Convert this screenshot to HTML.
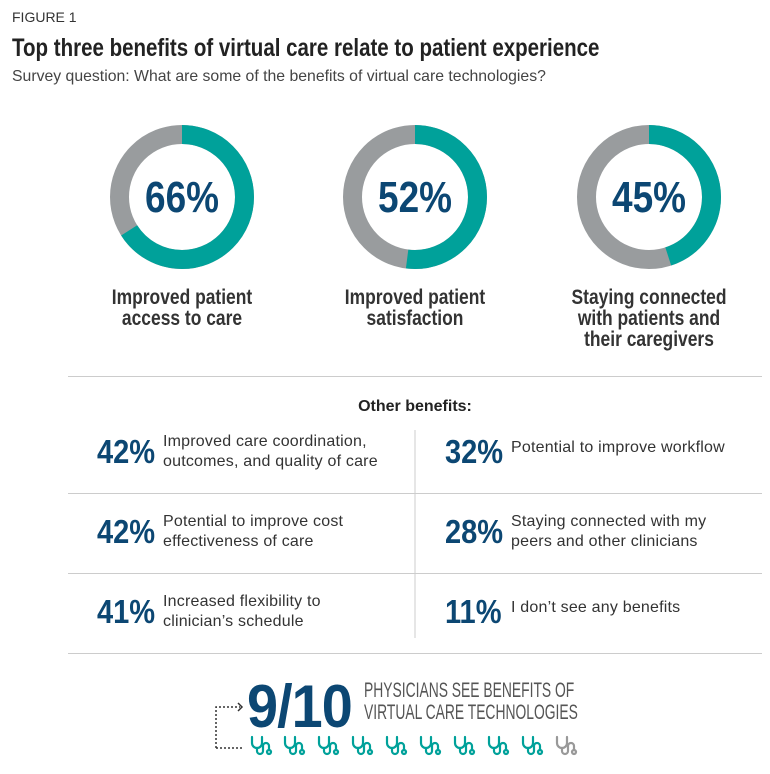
<!DOCTYPE html>
<html><head><style>
body{margin:0;width:770px;height:774px;background:#fff;position:relative;font-family:"Liberation Sans",sans-serif;overflow:hidden}
.a{position:absolute;white-space:nowrap}
.n{font-weight:bold;transform-origin:0 0}
.lab{font-weight:bold;font-size:21px;color:#333;text-align:center;line-height:21px;width:200px;transform:scaleX(0.83);transform-origin:50% 0}
.pct{font-weight:bold;font-size:33px;color:#0c4773;transform:scaleX(0.88);transform-origin:0 0}
.t{font-size:16px;letter-spacing:0.2px;color:#333;line-height:20px}
.hl{position:absolute;height:1px;background:#ccc}
</style></head><body>
<div class="a" style="left:12px;top:9px;font-size:14px;color:#333">FIGURE 1</div>
<div class="a n" style="left:12px;top:34px;font-size:25px;color:#222;transform:scaleX(0.82)">Top three benefits of virtual care relate to patient experience</div>
<div class="a" style="left:12px;top:68px;font-size:15.8px;color:#444">Survey question: What are some of the benefits of virtual care technologies?</div>
<svg class="a" style="left:0;top:0" width="770" height="774">
<g fill="none" stroke-width="19">
<circle cx="182" cy="197" r="62.5" stroke="#999c9e"/>
<circle cx="182" cy="197" r="62.5" stroke="#00a19a" stroke-dasharray="259.2 500" transform="rotate(-90 182 197)"/>
<circle cx="415" cy="197" r="62.5" stroke="#999c9e"/>
<circle cx="415" cy="197" r="62.5" stroke="#00a19a" stroke-dasharray="204.2 500" transform="rotate(-90 415 197)"/>
<circle cx="649" cy="197" r="62.5" stroke="#999c9e"/>
<circle cx="649" cy="197" r="62.5" stroke="#00a19a" stroke-dasharray="176.7 500" transform="rotate(-90 649 197)"/>
</g>
<g font-family="Liberation Sans, sans-serif" font-weight="bold" font-size="44" fill="#0c4773" text-anchor="middle">
<text transform="translate(182 212) scale(0.84 1)">66%</text><text transform="translate(415 212) scale(0.84 1)">52%</text><text transform="translate(649 212) scale(0.84 1)">45%</text>
</g>
<line x1="415" y1="430" x2="415" y2="638" stroke="#ccc"/>
<g fill="none" stroke="#333" stroke-width="1.5" stroke-dasharray="2 2">
<path d="M216 748 V707 H240"/><path d="M216 748 H244"/>
</g>
<path d="M238 703 l4 4 -4 4" fill="none" stroke="#333" stroke-width="1.5"/>
</svg>
<div class="a lab" style="left:82px;top:287px">Improved patient<br>access to care</div>
<div class="a lab" style="left:315px;top:287px">Improved patient<br>satisfaction</div>
<div class="a lab" style="left:549px;top:287px">Staying connected<br>with patients and<br>their caregivers</div>
<div class="hl" style="left:68px;width:694px;top:376px"></div>
<div class="a" style="left:0;width:830px;text-align:center;top:398px;font-size:16px;font-weight:bold;color:#222">Other benefits:</div>
<div class="hl" style="left:68px;width:694px;top:493px"></div>
<div class="hl" style="left:68px;width:694px;top:573px"></div>
<div class="hl" style="left:68px;width:694px;top:653px"></div>
<div class="a pct" style="left:97px;top:433px">42%</div>
<div class="a t" style="left:163px;top:432px">Improved care coordination,<br>outcomes, and quality of care</div>
<div class="a pct" style="left:97px;top:513px">42%</div>
<div class="a t" style="left:163px;top:512px">Potential to improve cost<br>effectiveness of care</div>
<div class="a pct" style="left:97px;top:593px">41%</div>
<div class="a t" style="left:163px;top:592px">Increased flexibility to<br>clinician’s schedule</div>
<div class="a pct" style="left:445px;top:433px">32%</div>
<div class="a t" style="left:511px;top:438px">Potential to improve workflow</div>
<div class="a pct" style="left:445px;top:513px">28%</div>
<div class="a t" style="left:511px;top:512px">Staying connected with my<br>peers and other clinicians</div>
<div class="a pct" style="left:445px;top:593px">11%</div>
<div class="a t" style="left:511px;top:598px">I don’t see any benefits</div>
<div class="a n" style="left:247px;top:672px;font-size:60px;color:#0c4773;letter-spacing:-1px;transform:scaleX(0.93)">9/10</div>
<div class="a" style="left:364px;top:680px;font-size:21px;color:#555;line-height:22px;transform:scaleX(0.66);transform-origin:0 0">PHYSICIANS SEE BENEFITS OF<br>VIRTUAL CARE TECHNOLOGIES</div>
<svg class="a" style="left:0;top:0" width="770" height="774">
<defs><g id="st" fill="none" stroke-width="2.2" stroke-linecap="round"><path d="M0 0 v6 a5 5 0 0 0 10 0 v-6"/><path d="M5 11 v3 a3 3 0 0 0 6 0 v-5 a3 3 0 0 1 6 0 v4"/><circle cx="17" cy="15" r="2"/></g></defs>
<g stroke="#00a19a">
<use href="#st" x="252" y="737"/><use href="#st" x="285" y="737"/><use href="#st" x="319" y="737"/><use href="#st" x="353" y="737"/><use href="#st" x="387" y="737"/><use href="#st" x="421" y="737"/><use href="#st" x="455" y="737"/><use href="#st" x="489" y="737"/><use href="#st" x="523" y="737"/>
</g>
<use href="#st" x="557" y="737" stroke="#999"/>
</svg>
</body></html>
